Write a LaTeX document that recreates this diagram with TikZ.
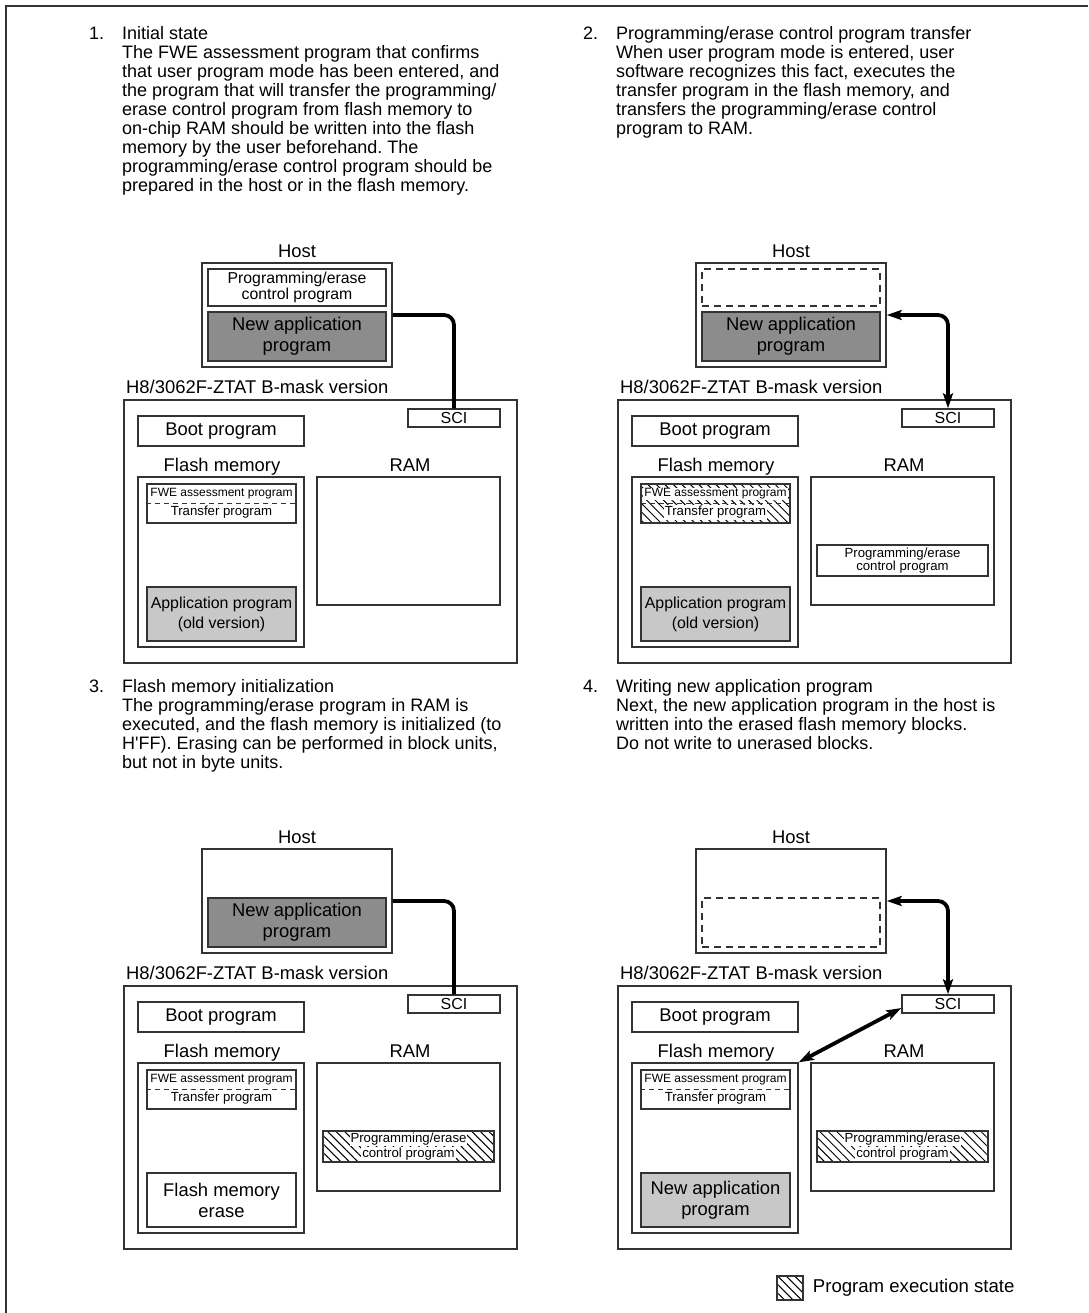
\documentclass[tikz,border=0pt]{standalone}
\usepackage{fontspec}
\setmainfont{Liberation Sans}
\usepackage{tikz}
\usetikzlibrary{arrows.meta,positioning,calc,patterns.meta}
\definecolor{appDark}{HTML}{8C8C8C}
\definecolor{appLight}{HTML}{C8C8C8}
\definecolor{lnGrey}{HTML}{333333}
\newcommand{\pxfont}[2]{\fontsize{#1}{#2}\selectfont}
\newcommand{\whitebg}[1]{\colorbox{white}{#1}}
\setlength{\fboxsep}{1pt}
\frenchspacing

\begin{document}
\begin{tikzpicture}[x=1pt,y=-1pt,
  font=\pxfont{18.4}{21},
  box/.style={draw=lnGrey,line width=1.4pt,inner sep=0pt,align=center},
  lab/.style={inner sep=0pt,anchor=base},
  para/.style={inner sep=0pt,anchor=north west,align=left,font=\pxfont{18}{19}},
  dk/.style={box,fill=appDark,minimum width=178pt,minimum height=49pt},
  lt/.style={box,fill=appLight,minimum width=149pt,minimum height=54pt},
  hatch/.style={pattern={Lines[angle=-45,distance=6pt,line width=1pt]}},
  gap/.style={box,dash pattern=on 7pt off 5pt},
  fwe/.style={box,minimum width=149pt,minimum height=39pt,font=\pxfont{13.2}{19}},
  ctl/.style={box,minimum width=171pt,minimum height=31pt,font=\pxfont{13.2}{13.5}},
  sep/.style={lnGrey,line width=1pt,dash pattern=on 5pt off 4pt},
  link/.style={line width=3.8pt,rounded corners=10pt},
  bigtip/.tip={Stealth[length=15pt,width=10pt,inset=3pt]}]

\useasboundingbox (0,0) rectangle (1088,1313);
\draw[lnGrey,line width=1.6pt] (6,1313) |- (1088,6);

% the four panels share host, chip and memory frames
\foreach \p/\dx/\dy in {1/0/0,2/494/0,3/0/586,4/494/586}{
  \begin{scope}[shift={(\dx,\dy)}]
    \node[box,minimum width=190pt,minimum height=104pt] (host\p) at (297,315) {};
    \node[lab] (hostlab\p) at (297,257.5) {Host};
    \node[box,minimum width=393pt,minimum height=263pt] (chip\p) at (320.5,531.5) {};
    \node[lab,anchor=base west] (chiplab\p) at (126,393.5) {H8/3062F-ZTAT B-mask version};
    \node[box,minimum width=92pt,minimum height=18pt,font=\pxfont{16}{16}] (sci\p) at (454,418) {SCI};
    \node[box,minimum width=166pt,minimum height=30pt] (boot\p) at (221,431) {Boot program};
    \node[box,minimum width=166pt,minimum height=170pt] (flash\p) at (221,562) {};
    \node[lab] (flashlab\p) at (222,471.5) {Flash memory};
    \node[box,minimum width=183pt,minimum height=128pt] (ram\p) at (408.5,541) {};
    \node[lab] (ramlab\p) at (410,471.5) {RAM};
    \coordinate (hostTop\p) at (297,287.5);
    \coordinate (hostBot\p) at (297,336.5);
    \coordinate (flashTop\p) at (221.5,503.5);
    \coordinate (flashBot\p) at (221.5,614);
    \coordinate (ramMid\p) at (408.5,560.5);
  \end{scope}
}

% 1. initial state
\node[para] (num1) at (89,26) {\strut 1.};
\node[para] (txt1) at (122,26) {\strut Initial state\\
  The FWE assessment program that confirms\\
  that user program mode has been entered, and\\
  the program that will transfer the programming/\\
  erase control program from flash memory to\\
  on-chip RAM should be written into the flash\\
  memory by the user beforehand. The\\
  programming/erase control program should be\\
  prepared in the host or in the flash memory.};
\node[box,minimum width=178pt,minimum height=37pt,font=\pxfont{15.8}{16.5}] (pec1) at (hostTop1) {Programming/erase\\control program};
\node[dk] (newapp1) at (hostBot1) {New application\\program};
\node[fwe] (fwe1) at (flashTop1) {{\pxfont{12}{19}FWE assessment program}\\Transfer program};
\draw[sep] (fwe1.west) -- (fwe1.east);
\node[lt,font=\pxfont{15.9}{20}] (app1) at (flashBot1) {Application program\\(old version)};
\draw[link] (host1.east) -| (sci1.north);

% 2. control program transfer
\node[para] (num2) at (583,26) {\strut 2.};
\node[para] (txt2) at (616,26) {\strut Programming/erase control program transfer\\
  When user program mode is entered, user\\
  software recognizes this fact, executes the\\
  transfer program in the flash memory, and\\
  transfers the programming/erase control\\
  program to RAM.};
\node[gap,minimum width=178pt,minimum height=37pt] (pec2) at (hostTop2) {};
\node[dk] (newapp2) at (hostBot2) {New application\\program};
\node[fwe,hatch] (fwe2) at (flashTop2) {{\pxfont{12}{19}\whitebg{FWE assessment program}}\\\whitebg{Transfer program}};
\draw[sep] (fwe2.west) -- (fwe2.east);
\node[lt,font=\pxfont{15.9}{20}] (app2) at (flashBot2) {Application program\\(old version)};
\node[ctl] (ctl2) at (ramMid2) {Programming/erase\\control program};
\draw[link,bigtip-bigtip] (host2.east) -| (sci2.north);

% 3. flash memory initialization
\node[para] (num3) at (89,679) {\strut 3.};
\node[para] (txt3) at (122,679) {\strut Flash memory initialization\\
  The programming/erase program in RAM is\\
  executed, and the flash memory is initialized (to\\
  H\textquotesingle FF). Erasing can be performed in block units,\\
  but not in byte units.};
\node[dk] (newapp3) at (hostBot3) {New application\\program};
\node[fwe] (fwe3) at (flashTop3) {{\pxfont{12}{19}FWE assessment program}\\Transfer program};
\draw[sep] (fwe3.west) -- (fwe3.east);
\node[box,minimum width=149pt,minimum height=54pt] (erase3) at (flashBot3) {Flash memory\\erase};
\node[ctl,hatch] (ctl3) at (ramMid3) {\whitebg{Programming/erase}\\\whitebg{control program}};
\draw[link] (host3.east) -| (sci3.north);

% 4. writing new application program
\node[para] (num4) at (583,679) {\strut 4.};
\node[para] (txt4) at (616,679) {\strut Writing new application program\\
  Next, the new application program in the host is\\
  written into the erased flash memory blocks.\\
  Do not write to unerased blocks.};
\node[gap,minimum width=178pt,minimum height=49pt] (newapp4) at (hostBot4) {};
\node[fwe] (fwe4) at (flashTop4) {{\pxfont{12}{19}FWE assessment program}\\Transfer program};
\draw[sep] (fwe4.west) -- (fwe4.east);
\node[lt] (app4) at (flashBot4) {New application\\program};
\node[ctl,hatch] (ctl4) at (ramMid4) {\whitebg{Programming/erase}\\\whitebg{control program}};
\draw[link,bigtip-bigtip] (host4.east) -| (sci4.north);
\draw[link,bigtip-bigtip] ([yshift=-4pt]sci4.west) -- (flash4.north east);

% legend
\node[box,hatch,minimum width=26pt,minimum height=24pt] (legbox) at (790,1288) {};
\node[inner sep=0pt,right=9pt of legbox,font=\pxfont{18.6}{20}] (legtxt) {Program execution state};
\end{tikzpicture}
\end{document}
